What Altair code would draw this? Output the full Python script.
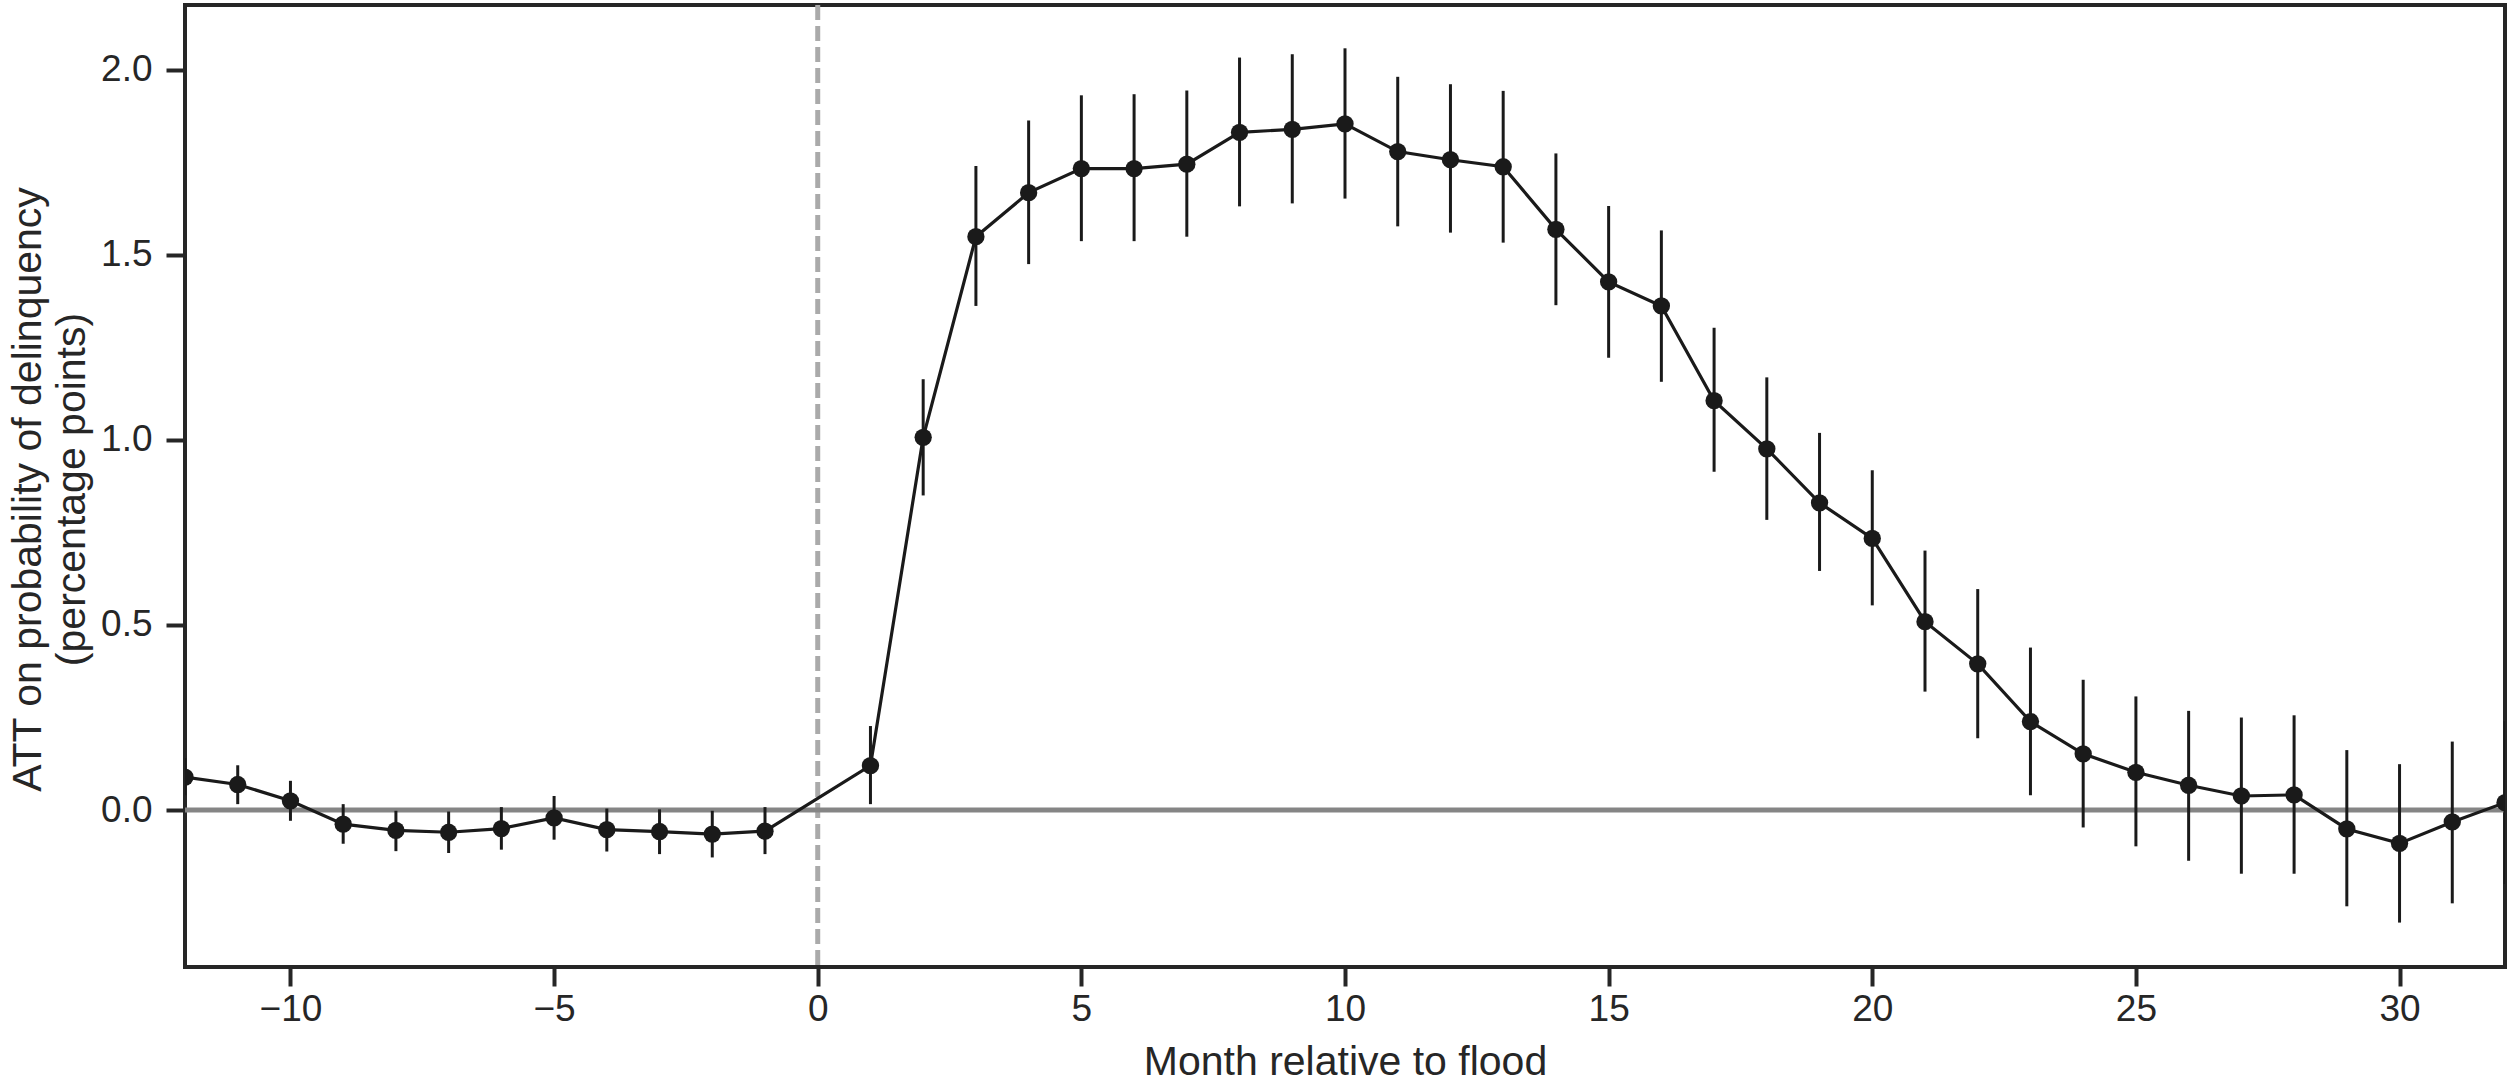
import altair as alt
import pandas as pd

months = [-12, -11, -10, -9, -8, -7, -6, -5, -4, -3, -2, -1,
          1, 2, 3, 4, 5, 6, 7, 8, 9, 10, 11, 12, 13, 14, 15, 16,
          17, 18, 19, 20, 21, 22, 23, 24, 25, 26, 27, 28, 29, 30, 31, 32]
att = [0.089, 0.069, 0.025, -0.038, -0.055, -0.060, -0.050, -0.021, -0.053, -0.058, -0.065, -0.057,
       0.120, 1.007, 1.549, 1.668, 1.733, 1.733, 1.745, 1.831, 1.839, 1.854, 1.779, 1.757, 1.738,
       1.569, 1.427, 1.362, 1.106, 0.976, 0.830, 0.734, 0.509, 0.395, 0.239, 0.152, 0.102, 0.067,
       0.038, 0.041, -0.051, -0.090, -0.032, 0.020]
ci_low = [0.040, 0.016, -0.029, -0.091, -0.111, -0.116, -0.107, -0.080, -0.112, -0.119, -0.128, -0.119,
          0.016, 0.850, 1.362, 1.475, 1.537, 1.537, 1.549, 1.631, 1.639, 1.652, 1.577, 1.560, 1.533,
          1.364, 1.222, 1.157, 0.914, 0.784, 0.646, 0.553, 0.320, 0.194, 0.040, -0.047, -0.098, -0.137,
          -0.172, -0.172, -0.260, -0.304, -0.252, -0.200]
ci_high = [0.140, 0.121, 0.079, 0.016, -0.002, -0.004, 0.008, 0.038, 0.004, 0.002, -0.002, 0.008,
           0.227, 1.164, 1.740, 1.863, 1.931, 1.934, 1.944, 2.033, 2.042, 2.058, 1.981, 1.961, 1.943,
           1.774, 1.632, 1.566, 1.303, 1.169, 1.019, 0.918, 0.701, 0.597, 0.439, 0.352, 0.307, 0.268,
           0.250, 0.256, 0.162, 0.124, 0.185, 0.240]

x_ticks = [-10, -5, 0, 5, 10, 15, 20, 25, 30]
y_ticks = [0.0, 0.5, 1.0, 1.5, 2.0]

df = pd.DataFrame({"month": months, "att": att, "lo": ci_low, "hi": ci_high})

FONT = "Liberation Sans"
DARK = "#262626"
INK = "#1a1a1a"

xscale = alt.Scale(domain=[-12, 32], nice=False, zero=False)
yscale = alt.Scale(domain=[-0.424, 2.175], nice=False, zero=False)

xaxis = alt.Axis(values=x_ticks, title="Month relative to flood", format="d",
                 titleX=1160, titleY=107, titleBaseline="alphabetic", titleAlign="center",
                 labelPadding=5)
yaxis = alt.Axis(values=y_ticks, format=".1f",
                 title=["ATT on probability of delinquency", "(percentage points)"],
                 titleX=-145, titleY=484, titleAngle=-90, titleBaseline="alphabetic",
                 titleAlign="center", titleLineHeight=44, labelPadding=14)

vline = alt.Chart(pd.DataFrame({"x": [0]})).mark_rule(
    color="#aaaaaa", strokeWidth=5, strokeDash=[15, 6]
).encode(x=alt.X("x:Q", scale=xscale, axis=xaxis))

hline = alt.Chart(pd.DataFrame({"y": [0]})).mark_rule(
    color="#858585", strokeWidth=5
).encode(y=alt.Y("y:Q", scale=yscale, axis=yaxis))

base = alt.Chart(df)

bars = base.mark_rule(color=INK, strokeWidth=3, clip=True).encode(
    x=alt.X("month:Q", scale=xscale, axis=xaxis),
    y=alt.Y("lo:Q", scale=yscale, axis=yaxis),
    y2="hi:Q",
)

line = base.mark_line(color=INK, strokeWidth=3.2, clip=True).encode(
    x=alt.X("month:Q", scale=xscale, axis=xaxis),
    y=alt.Y("att:Q", scale=yscale, axis=yaxis),
)

pts = base.mark_circle(color=INK, opacity=1, size=300, clip=True).encode(
    x=alt.X("month:Q", scale=xscale, axis=xaxis),
    y=alt.Y("att:Q", scale=yscale, axis=yaxis),
)

chart = alt.layer(vline, hline, bars, line, pts).properties(
    width=2320, height=962,
    autosize=alt.AutoSizeParams(type="none"),
    padding={"left": 185, "top": 5, "right": 4, "bottom": 116},
    background="white",
).configure_view(
    stroke=DARK, strokeWidth=4
).configure_axis(
    labelFont=FONT, titleFont=FONT, labelFontSize=37, titleFontSize=41,
    labelColor=DARK, titleColor=DARK, titleFontWeight="normal",
    tickSize=19, tickWidth=4, tickColor=DARK, domain=False, grid=False,
)

chart.save("out.html", embed_options={"renderer": "svg", "actions": False})
